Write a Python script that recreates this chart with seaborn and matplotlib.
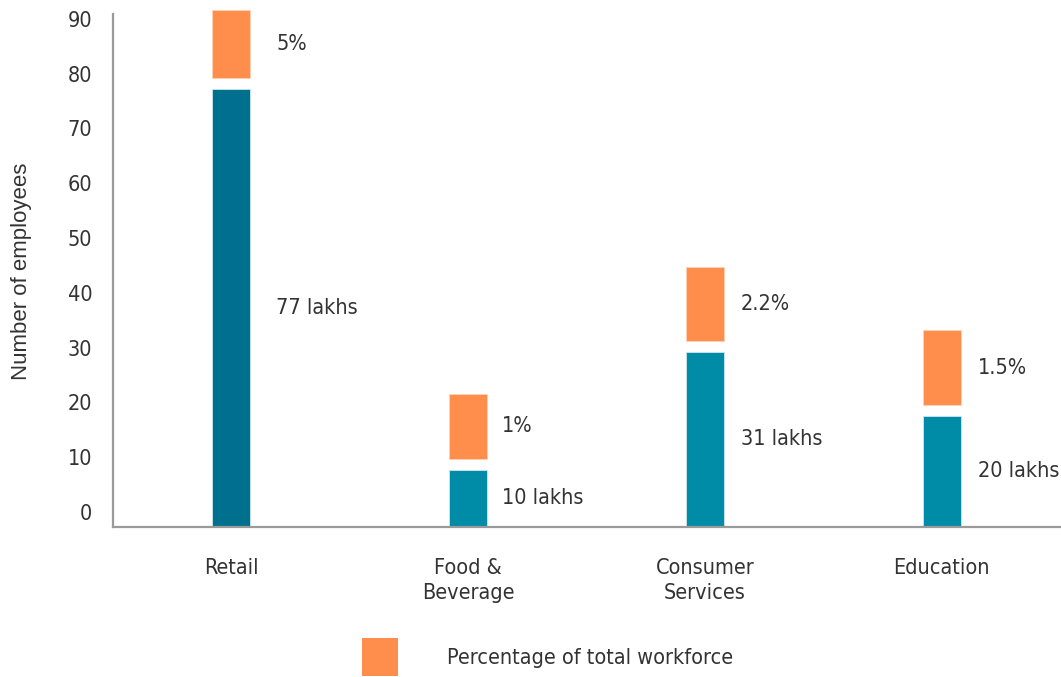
import matplotlib
matplotlib.use("Agg")
import matplotlib.pyplot as plt
from matplotlib import font_manager
from matplotlib.font_manager import FontProperties
from matplotlib.transforms import ScaledTranslation
from matplotlib.patches import Patch
import seaborn as sns
import glob, os

# ---- data ----
categories = ["Retail", "Food &\nBeverage", "Consumer\nServices", "Education"]
employees = [79.9, 10.4, 32.0, 20.3]           # bar heights
employee_labels = ["77 lakhs", "10 lakhs", "31 lakhs", "20 lakhs"]
pct_block = [12.5, 11.9, 13.4, 13.6]            # orange block heights
pct_labels = ["5%", "1%", "2.2%", "1.5%"]
gap = 2.0
y_ticks = [0, 10, 20, 30, 40, 50, 60, 70, 80, 90]

# ---- style ----
teal_colors = ["#00708F", "#008BA7", "#008BA7", "#008BA7"]
orange = "#FF8D4C"
text_color = "#333333"
label_pad_px = [26, 15, 17, 17]

sns.set_theme(style="white")

# ---- find a condensed / narrow font if one is installed ----
cond_path = None
paths = [f.fname for f in font_manager.fontManager.ttflist]
paths += glob.glob("/usr/share/fonts/**/*.ttf", recursive=True)
paths += glob.glob("/usr/share/fonts/**/*.otf", recursive=True)
prefs = ["LiberationSansNarrow-Regular", "DejaVuSansCondensed.ttf",
         "RobotoCondensed-Regular", "OpenSans_Condensed-Regular",
         "OpenSansCondensed-Regular"]
for pref in prefs:
    for p in paths:
        if pref in os.path.basename(p):
            cond_path = p
            break
    if cond_path:
        break

names = {f.name for f in font_manager.fontManager.ttflist}
regular = "Liberation Sans" if "Liberation Sans" in names else "DejaVu Sans"

if cond_path:
    scale = 0.86 if "DejaVu" in cond_path else 1.0
    def fp(size):
        return FontProperties(fname=cond_path, size=size * scale)
else:
    scale = 0.87
    def fp(size):
        return FontProperties(family=regular, size=size * scale)

plt.rcParams["font.family"] = [regular, "DejaVu Sans"]
plt.rcParams["text.color"] = text_color

W, H = 1061, 677
fig = plt.figure(figsize=(W / 100, H / 100), dpi=100)
ax = fig.add_axes([113 / W, (H - 527) / H, 947 / W, 513 / H])

sns.barplot(x=categories, y=employees, hue=categories, palette=teal_colors,
            legend=False, width=0.161, saturation=1, ax=ax,
            edgecolor="#cfe6ee", linewidth=0.6)
bottoms = [e + gap for e in employees]
sns.barplot(x=categories, y=pct_block, bottom=bottoms, color=orange,
            width=0.161, saturation=1, ax=ax, clip_on=False,
            edgecolor="#ffd2b5", linewidth=0.6)

ax.set_xlim(-0.5, 3.5)
ax.set_ylim(0, 93.6)

# value labels
for i in range(len(categories)):
    pad_pt = label_pad_px[i] * 0.72
    ax.annotate(employee_labels[i], xy=(i + 0.0805, employees[i] / 2),
                xytext=(pad_pt, 0), textcoords="offset points",
                ha="left", va="center", fontproperties=fp(18), color=text_color,
                annotation_clip=False)
    ax.annotate(pct_labels[i], xy=(i + 0.0805, bottoms[i] + pct_block[i] / 2),
                xytext=(pad_pt, 0), textcoords="offset points",
                ha="left", va="center", fontproperties=fp(18), color=text_color,
                annotation_clip=False)

# axes styling
for s in ["top", "right"]:
    ax.spines[s].set_visible(False)
for s in ["left", "bottom"]:
    ax.spines[s].set_color("#9a9a9a")
    ax.spines[s].set_linewidth(1.6)

ax.set_yticks(y_ticks)
ax.set_yticklabels([str(v) for v in y_ticks])
ax.tick_params(axis="y", length=0, pad=15, labelcolor=text_color)
ax.tick_params(axis="x", length=0, pad=22, labelcolor=text_color)
for lab in ax.get_xticklabels():
    lab.set_fontproperties(fp(18))
    lab.set_linespacing(1.35)
offset = ScaledTranslation(0, 0.15, fig.dpi_scale_trans)
for lab in ax.get_yticklabels():
    lab.set_fontproperties(fp(18))
    lab.set_transform(lab.get_transform() + offset)

ax.set_xlabel("")
ax.set_ylabel("")
fig.text(22 / W, 1 - 271 / H, "Number of employees", rotation=90,
         ha="center", va="center", fontsize=16, color=text_color,
         family=[regular, "DejaVu Sans"])

# legend
leg_size = 18
fs_px = leg_size * scale * 100 / 72
handle = Patch(facecolor=orange, edgecolor="none")
leg = fig.legend([handle], ["Percentage of total workforce"], loc="center left",
                 bbox_to_anchor=(362 / W, (H - 657) / H), frameon=False,
                 prop=fp(leg_size), borderpad=0, borderaxespad=0,
                 handlelength=36 / fs_px, handleheight=50 / fs_px,
                 handletextpad=49 / fs_px, labelcolor=text_color)

fig.savefig("out.png", dpi=100)
